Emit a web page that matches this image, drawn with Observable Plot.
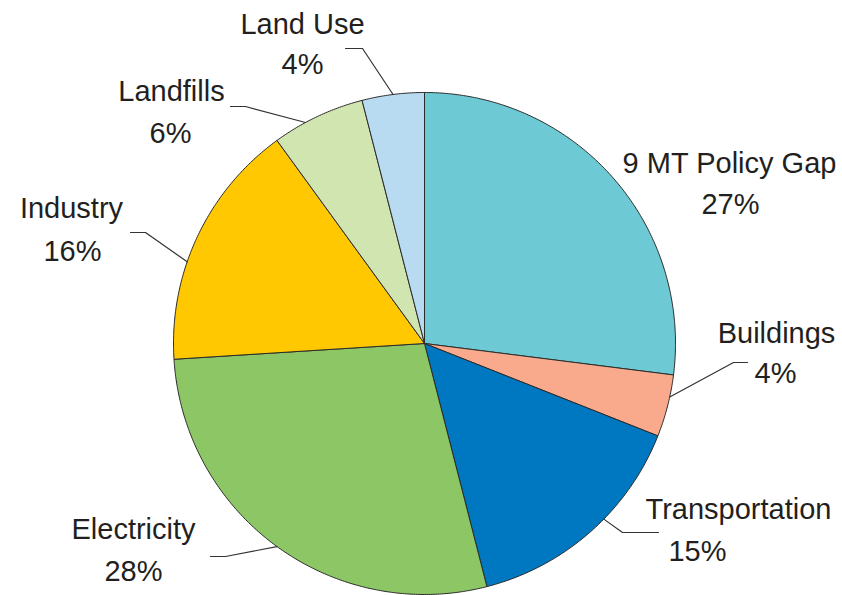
<!DOCTYPE html>
<html>
<head>
<meta charset="utf-8">
<script src="https://cdn.jsdelivr.net/npm/d3@7"></script>
<script src="https://cdn.jsdelivr.net/npm/@observablehq/plot@0.6"></script>
<style>
  html, body { margin: 0; padding: 0; background: #fff; }
  #chart svg { display: block; }
</style>
</head>
<body>
<div id="chart"></div>
<script>
// ---- Data ----
const names = ["9 MT Policy Gap", "Buildings", "Transportation", "Electricity", "Industry", "Landfills", "Land Use"];
const shares = [27, 4, 15, 28, 16, 6, 4];

// ---- Styles ----
const colors = ["#6dcad4", "#f9aa8c", "#0077c1", "#8cc665", "#ffc800", "#d1e5b0", "#b9dbf1"];

// ---- Layout (pixels) ----
const W = 842, H = 595;
const cx = 424, cy = 343, R = 251;
// label positions: [nameX, nameY, pctX, pctY] (baselines)
const labelPos = [
  [729, 172, 730, 213],
  [776, 342, 775, 382],
  [738, 518, 697, 560],
  [133, 538, 133, 580],
  [71, 217, 72, 260],
  [171, 100, 170, 142],
  [302, 33, 302, 73]
];
// leader lines: [angle on rim (deg, clockwise from top), elbowX, elbowY, endX, endY]; null = none
const leaderPos = [
  null,
  [102.3, 733, 362, 747, 362],
  [134.4, 622, 532, 658, 532],
  [216, 225, 556, 210, 556],
  [289, 145, 232, 130, 232],
  [331.7, 245, 106, 230, 106],
  [352.8, 362, 48, 345, 48]
];

// ---- Build slice polygons from the data ----
const pie = d3.pie().sort(null).value(d => d)(shares);
const rim = a => ({x: cx + R * Math.sin(a), y: cy - R * Math.cos(a)});
const slicePts = [];
pie.forEach((p, i) => {
  slicePts.push({name: names[i], x: cx, y: cy});
  const n = Math.max(2, Math.ceil((p.endAngle - p.startAngle) / (Math.PI / 360)));
  for (let k = 0; k <= n; k++) {
    const a = p.startAngle + (p.endAngle - p.startAngle) * k / n;
    const q = rim(a);
    slicePts.push({name: names[i], x: q.x, y: q.y});
  }
  slicePts.push({name: names[i], x: cx, y: cy});
});

const leaderPts = [];
leaderPos.forEach((l, i) => {
  if (!l) return;
  const q = rim(l[0] * Math.PI / 180);
  leaderPts.push({name: names[i], x: q.x, y: q.y});
  leaderPts.push({name: names[i], x: l[1], y: l[2]});
  leaderPts.push({name: names[i], x: l[3], y: l[4]});
});

const labels = names.map((n, i) => ({
  name: n, pct: shares[i] + "%",
  nx: labelPos[i][0], ny: labelPos[i][1], px: labelPos[i][2], py: labelPos[i][3]
}));

const font = "'Liberation Sans', Arial, sans-serif";

const chart = Plot.plot({
  width: W,
  height: H,
  margin: 0,
  x: {domain: [0, W], range: [0, W], axis: null},
  y: {domain: [0, H], range: [0, H], axis: null},
  color: {domain: names, range: colors},
  style: {fontFamily: font, background: "#fff"},
  marks: [
    Plot.line(slicePts, {x: "x", y: "y", z: "name", fill: "name", stroke: "#2b2b2b", strokeWidth: 1, strokeLinejoin: "round", curve: "linear"}),
    Plot.line(leaderPts, {x: "x", y: "y", z: "name", stroke: "#333", strokeWidth: 1.2, curve: "linear"}),
    Plot.text(labels, {x: "nx", y: "ny", text: "name", fontSize: 29, fill: "#231f20", textAnchor: "middle", lineAnchor: "bottom"}),
    Plot.text(labels, {x: "px", y: "py", text: "pct", fontSize: 29, fill: "#231f20", textAnchor: "middle", lineAnchor: "bottom"})
  ]
});
document.getElementById("chart").appendChild(chart);
</script>
</body>
</html>
